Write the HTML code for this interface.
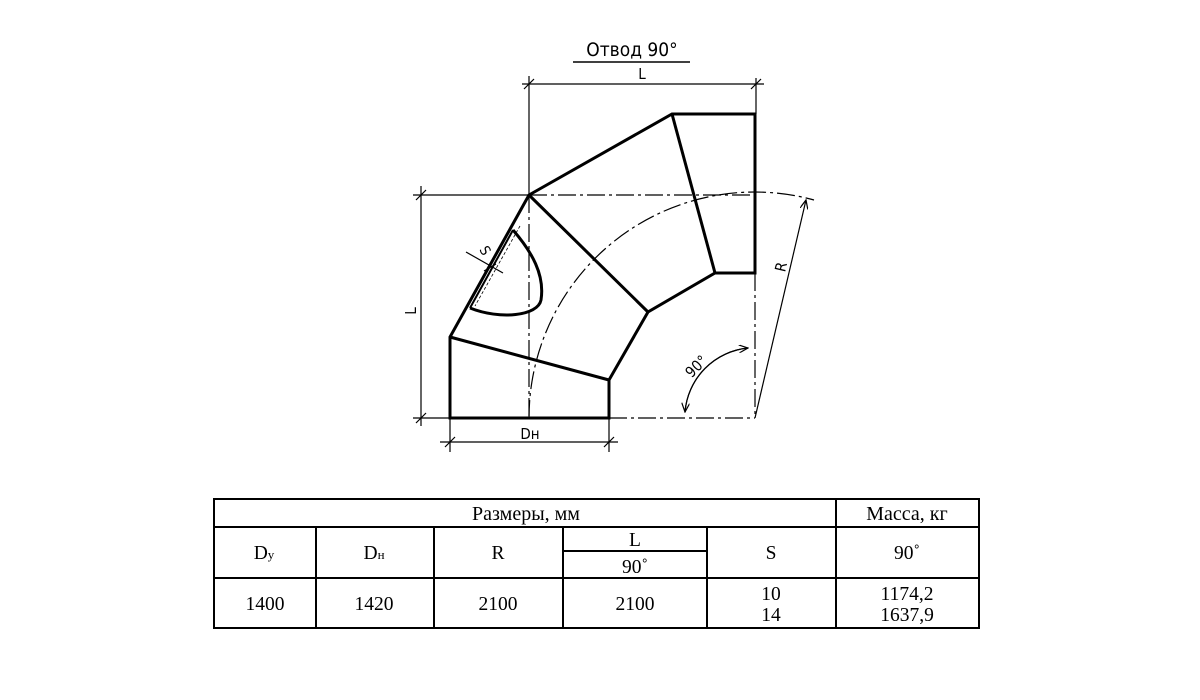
<!DOCTYPE html>
<html><head><meta charset="utf-8"><style>
html,body{margin:0;padding:0;background:#fff;width:1200px;height:700px;overflow:hidden}
svg{position:absolute;left:0;top:0}
</style></head><body>
<svg width="1200" height="700" viewBox="0 0 1200 700" xmlns="http://www.w3.org/2000/svg">
<defs><marker id="a" markerWidth="10" markerHeight="8" refX="9" refY="4" orient="auto" markerUnits="userSpaceOnUse"><path d="M0,0 L9,4 L0,8" fill="none" stroke="#000" stroke-width="1.2"/></marker></defs>
<g fill="none" stroke="#000">
<line x1="573" y1="62" x2="690" y2="62" stroke-width="1.5"/>
<g stroke-width="1.2">
<line x1="522" y1="84" x2="764" y2="84"/>
<line x1="529" y1="76" x2="529" y2="195"/>
<line x1="756" y1="78" x2="756" y2="114"/>
<line x1="421" y1="186" x2="421" y2="426"/>
<line x1="413" y1="195" x2="529" y2="195"/>
<line x1="413" y1="418" x2="609" y2="418"/>
<line x1="440" y1="442" x2="618" y2="442"/>
<line x1="450" y1="418" x2="450" y2="452"/>
<line x1="609" y1="418" x2="609" y2="452"/>
<line x1="524" y1="89" x2="534" y2="79"/><line x1="751" y1="89" x2="761" y2="79"/>
<line x1="416" y1="200" x2="426" y2="190"/><line x1="416" y1="423" x2="426" y2="413"/>
<line x1="445" y1="447" x2="455" y2="437"/><line x1="604" y1="447" x2="614" y2="437"/>
<line x1="755" y1="418" x2="806" y2="200" marker-end="url(#a)"/>
<path d="M748,348 A70,70 0 0 0 685,412" marker-end="url(#a)"/>
<path d="M685,412 A70,70 0 0 1 748,348" marker-end="url(#a)"/>
<line x1="466" y1="252" x2="503" y2="273"/>
<line x1="484" y1="271" x2="496" y2="264"/>
</g>
<g stroke-width="1.2" stroke-dasharray="18,4,3,4">
<line x1="529" y1="195" x2="755" y2="195"/>
<line x1="529" y1="195" x2="529" y2="418"/>
<line x1="609" y1="418" x2="755" y2="418"/>
<line x1="755" y1="273" x2="755" y2="418"/>
<path d="M529,418 A226,226 0 0 1 755,192 A226,226 0 0 1 814,200"/>
</g>
<g stroke-width="3" stroke-linejoin="miter">
<path d="M529,195 L672,114 L755,114 L755,273 L715,273 L648,312 L609,380 L609,418 L450,418 L450,337 Z"/>
<line x1="672" y1="114" x2="715" y2="273"/>
<line x1="529" y1="195" x2="648" y2="312"/>
<line x1="450" y1="337" x2="609" y2="380"/>
<path d="M513,230 C532,252 545,275 541,300 C538,316 500,320 470,308"/>
<line x1="513" y1="230" x2="470" y2="308" stroke-width="2"/>
</g>
<line x1="520" y1="226" x2="475" y2="306" stroke-width="0.8" stroke-dasharray="3,2"/>
<g stroke-width="2">
<rect x="214" y="499" width="765" height="129"/>
<line x1="214" y1="527" x2="979" y2="527"/>
<line x1="214" y1="578" x2="979" y2="578"/>
<line x1="836" y1="499" x2="836" y2="628"/>
<line x1="316" y1="527" x2="316" y2="628"/>
<line x1="434" y1="527" x2="434" y2="628"/>
<line x1="563" y1="527" x2="563" y2="628"/>
<line x1="707" y1="527" x2="707" y2="628"/>
<line x1="563" y1="551" x2="707" y2="551"/>
</g>
</g>
<g font-family="'DejaVu Sans Condensed','Liberation Sans',sans-serif" font-size="17" fill="#000">
<text x="632" y="56" text-anchor="middle" font-size="19">Отвод 90°</text>
<text x="642" y="79" text-anchor="middle" font-size="15">L</text>
<text x="530" y="439" text-anchor="middle" font-size="15">Dн</text>
<text x="0" y="0" font-size="15" transform="translate(416,311) rotate(-90)" text-anchor="middle">L</text>
<text x="0" y="0" font-size="15" transform="translate(786,268) rotate(-77)" text-anchor="middle">R</text>
<text x="0" y="0" font-size="15" transform="translate(700,370) rotate(-45)" text-anchor="middle">90°</text>
<text x="0" y="0" font-size="14" transform="translate(481,253) rotate(60)" text-anchor="middle">S</text>
</g>
<g font-family="'Liberation Serif',serif" font-size="19.5" fill="#000" text-anchor="middle">
<text x="526" y="520" font-size="20">Размеры, мм</text>
<text x="907" y="520" font-size="20">Масса, кг</text>
<text x="264" y="559">D<tspan font-size="13">у</tspan></text>
<text x="374" y="559">D<tspan font-size="13">н</tspan></text>
<text x="498" y="559">R</text>
<text x="635" y="546">L</text>
<text x="635" y="573">90˚</text>
<text x="771" y="559">S</text>
<text x="907" y="559">90˚</text>
<text x="265" y="610">1400</text>
<text x="374" y="610">1420</text>
<text x="498" y="610">2100</text>
<text x="635" y="610">2100</text>
<text x="771" y="600">10</text>
<text x="771" y="621">14</text>
<text x="907" y="600">1174,2</text>
<text x="907" y="621">1637,9</text>
</g>
</svg>
</body></html>
